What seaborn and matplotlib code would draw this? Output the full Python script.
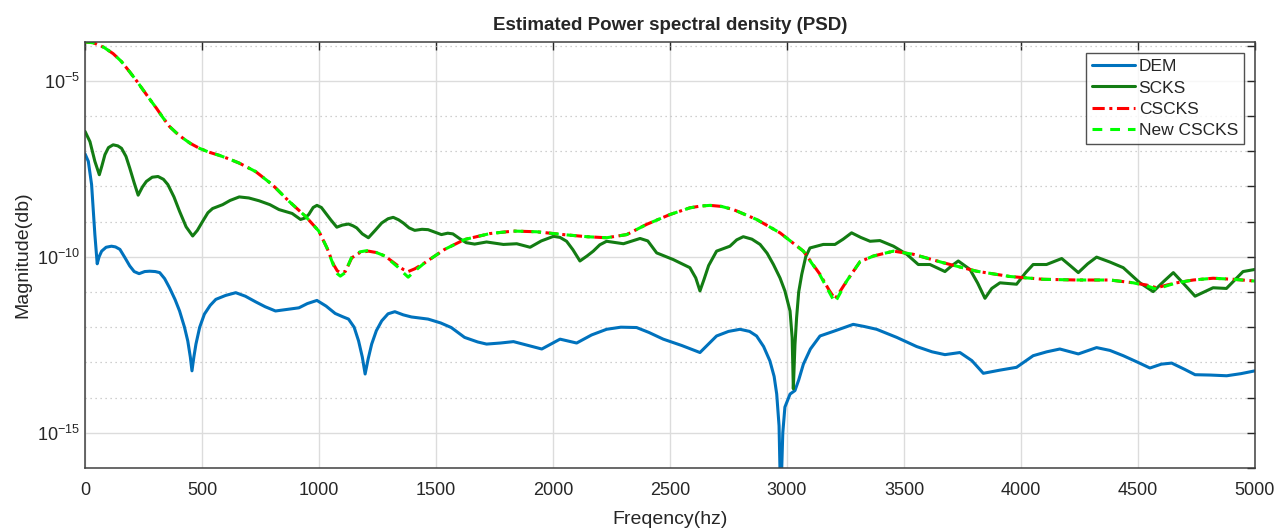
import numpy as np
import pandas as pd
import seaborn as sns
import matplotlib.pyplot as plt
from matplotlib.ticker import FixedLocator, FixedFormatter, NullFormatter

# values (frequency in Hz, magnitude as log10)
dem_hz = [0, 14, 28, 42, 52, 60, 71, 90, 113, 130, 149, 170, 191, 210, 231, 255, 276, 300, 319,
          340, 361, 385, 404, 425, 439, 450, 457, 465, 474, 490, 510, 535, 559, 600, 644, 685,
          729, 770, 814, 860, 914, 950, 991, 1030, 1069, 1100, 1126, 1150, 1169, 1185, 1197,
          1210, 1225, 1245, 1268, 1295, 1324, 1360, 1395, 1466, 1520, 1565, 1622, 1678,
          1716, 1775, 1831, 1895, 1952, 2030, 2101, 2165, 2229, 2290, 2357, 2410, 2471, 2550, 2628,
          2699, 2750, 2799, 2840, 2870, 2900, 2927, 2945, 2956, 2966, 2973, 2982, 2991, 3013,
          3034, 3050, 3070, 3100, 3141, 3198, 3240, 3283, 3330, 3383, 3469, 3554, 3620, 3675,
          3739, 3790, 3839, 3910, 3981, 4052, 4110, 4166, 4245, 4323, 4380, 4437, 4500, 4551,
          4600, 4644, 4700, 4744, 4810, 4879, 4940, 5000]
dem_log = [-7.08, -7.29, -7.95, -9.37, -10.20, -10.00, -9.84, -9.73, -9.70, -9.72, -9.79, -10.02,
           -10.26, -10.42, -10.48, -10.42, -10.41, -10.42, -10.45, -10.62, -10.88, -11.22, -11.54,
           -12.00, -12.39, -12.85, -13.24, -12.85, -12.48, -12.00, -11.63, -11.38, -11.21, -11.10,
           -11.02, -11.12, -11.28, -11.42, -11.54, -11.50, -11.45, -11.33, -11.24, -11.40, -11.61,
           -11.70, -11.77, -12.00, -12.39, -12.85, -13.33, -12.90, -12.48, -12.10, -11.82, -11.62,
           -11.56, -11.65, -11.71, -11.77, -11.88, -12.01, -12.29, -12.42,
           -12.48, -12.45, -12.41, -12.52, -12.62, -12.34, -12.45, -12.22, -12.06, -12.00, -12.01,
           -12.15, -12.34, -12.52, -12.72, -12.25, -12.12, -12.06, -12.12, -12.25, -12.55, -12.96,
           -13.40, -13.90, -14.80, -17.0, -15.00, -14.27, -13.90, -13.80, -13.50, -13.05, -12.62,
           -12.25, -12.12, -12.02, -11.92, -11.98, -12.06, -12.29, -12.55, -12.70, -12.78, -12.72,
           -12.95, -13.31, -13.22, -13.14, -12.81, -12.70, -12.62, -12.76, -12.58, -12.66, -12.81,
           -13.00, -13.16, -13.05, -13.02, -13.20, -13.35, -13.36, -13.38, -13.32, -13.24]

scks_hz = [0, 21, 42, 61, 72, 85, 100, 120, 140, 156, 175, 191, 210, 227, 245, 262, 287, 312, 335,
           354, 380, 404, 432, 460, 480, 503, 525, 545, 588, 620, 659, 700, 744, 790, 829, 885,
           921, 940, 956, 975, 991, 1010, 1027, 1050, 1076, 1100, 1126, 1145, 1161, 1185, 1211,
           1240, 1268, 1295, 1317, 1340, 1360, 1385, 1409, 1440, 1466, 1495, 1523, 1550, 1572,
           1600, 1629, 1665, 1716, 1788, 1845, 1902, 1950, 2002, 2030, 2058, 2085, 2115, 2145,
           2172, 2200, 2229, 2301, 2372, 2405, 2443, 2514, 2585, 2610, 2628, 2645, 2665, 2699,
           2756, 2785, 2813, 2850, 2885, 2915, 2942, 2970, 2991, 3013, 3022, 3027, 3034, 3041,
           3050, 3063, 3080, 3098, 3155, 3205, 3240, 3276, 3315, 3355, 3397, 3455, 3512, 3561,
           3611, 3675, 3705, 3732, 3782, 3815, 3846, 3875, 3910, 3981, 4020, 4052, 4109, 4174,
           4210, 4245, 4285, 4323, 4380, 4437, 4508, 4565, 4610, 4651, 4700, 4744, 4821, 4878,
           4915, 4949, 5000]
scks_log = [-6.44, -6.73, -7.29, -7.67, -7.42, -7.10, -6.90, -6.82, -6.85, -6.92, -7.15, -7.48,
            -7.90, -8.25, -8.02, -7.86, -7.74, -7.72, -7.80, -7.95, -8.30, -8.71, -9.15, -9.41,
            -9.25, -8.99, -8.75, -8.63, -8.52, -8.40, -8.30, -8.33, -8.41, -8.52, -8.66, -8.77,
            -8.94, -8.90, -8.80, -8.60, -8.54, -8.60, -8.75, -8.95, -9.16, -9.10, -9.07, -9.12,
            -9.18, -9.35, -9.46, -9.25, -9.04, -8.92, -8.88, -8.95, -9.04, -9.18, -9.25, -9.22,
            -9.23, -9.30, -9.37, -9.33, -9.35, -9.48, -9.60, -9.64, -9.58, -9.65, -9.63, -9.73,
            -9.55, -9.42, -9.45, -9.56, -9.80, -10.12, -9.98, -9.84, -9.66, -9.56, -9.63, -9.48,
            -9.55, -9.89, -10.08, -10.31, -10.60, -10.97, -10.65, -10.25, -9.84, -9.70, -9.52,
            -9.43, -9.50, -9.65, -9.90, -10.22, -10.60, -10.97, -11.54, -12.30, -13.75, -12.50,
            -11.73, -11.00, -10.50, -10.00, -9.75, -9.65, -9.65, -9.50, -9.32, -9.45, -9.56,
            -9.54, -9.70, -9.93, -10.22, -10.22, -10.42, -10.25, -10.12, -10.36, -10.75, -11.18,
            -10.90, -10.74, -10.78, -10.45, -10.22, -10.22, -10.05, -10.25, -10.45, -10.20,
            -10.01, -10.15, -10.31, -10.74, -10.99, -10.70, -10.45, -10.80, -11.12, -10.88,
            -10.90, -10.65, -10.42, -10.36]

cscks_hz = [0, 35, 80, 120, 155, 191, 220, 248, 276, 305, 333, 361, 390, 418, 450, 489, 530, 574,
            615, 659, 729, 800, 871, 942, 999, 1034, 1062, 1078, 1091, 1112, 1140, 1175, 1211,
            1245, 1282, 1338, 1360, 1381, 1410, 1452, 1537, 1622, 1731, 1831, 1930, 2044, 2144,
            2229, 2315, 2400, 2500, 2585, 2630, 2671, 2720, 2771, 2870, 2970, 3070, 3141, 3180,
            3205, 3230, 3255, 3312, 3369, 3455, 3540, 3668, 3810, 3952, 4095, 4238, 4380, 4480,
            4535, 4580, 4625, 4665, 4736, 4821, 4907, 5000]
cscks_log = [-3.90, -3.92, -4.05, -4.23, -4.45, -4.75, -5.00, -5.26, -5.52, -5.78, -6.05, -6.30,
             -6.48, -6.63, -6.78, -6.92, -7.03, -7.12, -7.22, -7.34, -7.58, -7.95, -8.42, -8.85,
             -9.27, -9.75, -10.22, -10.40, -10.45, -10.42, -10.03, -9.88, -9.84, -9.88, -9.98,
             -10.26, -10.36, -10.42, -10.34, -10.17, -9.79, -9.51, -9.34, -9.27, -9.29, -9.37,
             -9.43, -9.46, -9.37, -9.08, -8.80, -8.61, -8.56, -8.54, -8.57, -8.66, -8.94, -9.32,
             -9.84, -10.50, -10.95, -11.20, -10.95, -10.69, -10.14, -9.98, -9.84, -9.93, -10.17,
             -10.41, -10.56, -10.64, -10.66, -10.66, -10.74, -10.80, -10.88, -10.80, -10.74,
             -10.66, -10.61, -10.64, -10.69]
new_cscks_log = [-3.90, -3.92, -4.05, -4.23, -4.45, -4.75, -5.00, -5.26, -5.52, -5.78, -6.05,
                 -6.30, -6.48, -6.63, -6.78, -6.92, -7.03, -7.12, -7.22, -7.34, -7.58, -7.95,
                 -8.42, -8.85, -9.27, -9.75, -10.25, -10.48, -10.55, -10.45, -10.00, -9.86,
                 -9.82, -9.88, -9.98, -10.30, -10.45, -10.58, -10.40, -10.17, -9.79, -9.51, -9.34,
                 -9.27, -9.29, -9.37, -9.43, -9.46, -9.37, -9.08, -8.80, -8.61, -8.56, -8.54,
                 -8.57, -8.66, -8.94, -9.32, -9.84, -10.52, -11.00, -11.30, -11.00, -10.69,
                 -10.14, -9.98, -9.84, -9.93, -10.17, -10.41, -10.56, -10.64, -10.66, -10.66,
                 -10.74, -10.82, -10.92, -10.82, -10.74, -10.66, -10.61, -10.64, -10.69]

series = [
    ("DEM", dem_hz, dem_log, "#0072BD", "-"),
    ("SCKS", scks_hz, scks_log, "#137c13", "-"),
    ("CSCKS", cscks_hz, cscks_log, "#ff0000", (0, (4, 1.5, 1, 1.5))),
    ("New CSCKS", cscks_hz, new_cscks_log, "#00ff00", (0, (3.2, 2.6))),
]

sns.set_style("white")
plt.rcParams['font.family'] = ['Liberation Sans', 'DejaVu Sans']
plt.rcParams['mathtext.fontset'] = 'custom'
plt.rcParams['mathtext.rm'] = 'Liberation Sans'
plt.rcParams['mathtext.it'] = 'Liberation Sans'

fig = plt.figure(figsize=(12.75, 5.29), dpi=100)
ax = fig.add_axes([0.0667, 0.1153, 0.9176, 0.8053])

for name, hz, lg, col, ls in series:
    d = pd.DataFrame({"Freq": hz, "Mag": 10.0 ** np.array(lg)})
    sns.lineplot(data=d, x="Freq", y="Mag", ax=ax, color=col, linestyle=ls, lw=2.2,
                 estimator=None, sort=False, label=name)

ax.set_yscale("log")
ax.set_xlim(0, 5000)
ax.set_ylim(1e-16, 10 ** -3.9)

ax.set_xticks(np.arange(0, 5001, 500))
ax.yaxis.set_major_locator(FixedLocator([1e-15, 1e-10, 1e-5]))
ax.yaxis.set_major_formatter(FixedFormatter([r"$10^{-15}$", r"$10^{-10}$", r"$10^{-5}$"]))
ax.yaxis.set_minor_locator(FixedLocator([10.0 ** k for k in range(-16, -3)]))
ax.yaxis.set_minor_formatter(NullFormatter())

ax.grid(True, which="major", color="#dcdcdc", lw=1.0, ls="-")
ax.grid(True, which="minor", axis="y", color="#c0c0c0", lw=0.9, ls=(0, (1, 3)))
ax.set_axisbelow(True)

ax.tick_params(axis="both", which="both", direction="in", top=True, right=True,
               length=6, width=1, color="#262626", labelsize=13, labelcolor="#262626")
ax.tick_params(axis="x", pad=10)
for s in ax.spines.values():
    s.set_color("#404040")
    s.set_linewidth(1.1)

ax.set_title("Estimated Power spectral density (PSD)", fontsize=13.5, fontweight="bold", pad=9)
ax.set_xlabel("Freqency(hz)", fontsize=14, labelpad=9)
ax.set_ylabel("Magnitude(db)", fontsize=14, labelpad=4)

leg = ax.legend(loc="upper right", bbox_to_anchor=(0.9906, 0.974), fontsize=12.5, frameon=True,
                fancybox=False, handlelength=2.5, handletextpad=0.2, borderpad=0.35,
                labelspacing=0.35, borderaxespad=0)
leg.get_frame().set_edgecolor("#262626")
leg.get_frame().set_linewidth(1.0)

fig.savefig("out.png", dpi=100)
